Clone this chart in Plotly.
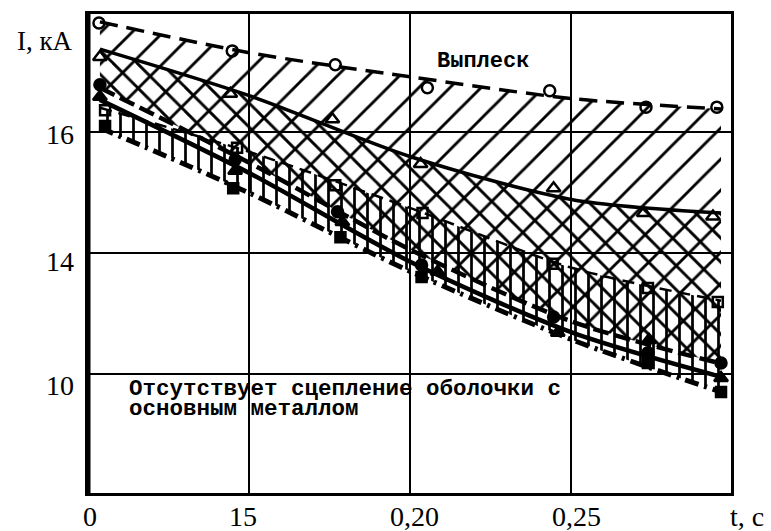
import plotly.graph_objects as go

# ---------------- data ----------------
# x tick positions / labels (as printed in the original figure)
x_tickvals = [0.10, 0.15, 0.20, 0.25]
x_ticktext = ["0", "15", "0,20", "0,25"]
y_tickvals = [16, 14, 12]
y_ticktext = ["16", "14", "10"]

# measured points (markers)
t_open_circle = [0.1034, 0.1448, 0.1768, 0.2054, 0.2434, 0.2733, 0.2953]
i_open_circle = [17.80, 17.34, 17.11, 16.73, 16.68, 16.41, 16.41]

t_open_tri = [0.1037, 0.1442, 0.1759, 0.2033, 0.2446, 0.2726, 0.2941]
i_open_tri = [17.24, 16.63, 16.21, 15.47, 15.07, 14.66, 14.60]

t_open_sq = [0.1053, 0.1463, 0.1768, 0.2039, 0.2443, 0.2739, 0.2956]
i_open_sq = [16.36, 15.74, 15.12, 14.66, 13.82, 13.42, 13.19]

t_fill_circle = [0.1037, 0.1457, 0.1775, 0.2036, 0.2446, 0.2739, 0.2966]
i_fill_circle = [16.78, 15.54, 14.68, 13.80, 12.94, 12.35, 12.18]

t_fill_tri = [0.1037, 0.1457, 0.1790, 0.2086, 0.2459, 0.2742, 0.2966]
i_fill_tri = [16.58, 15.36, 14.51, 13.69, 12.68, 12.56, 11.93]

t_fill_sq = [0.1053, 0.1451, 0.1784, 0.2036, 0.2739, 0.2966]
i_fill_sq = [16.10, 15.07, 14.26, 13.60, 12.18, 11.70]

# boundary curves
t_curve = [0.1037, 0.1501, 0.2002, 0.2505, 0.2966]
i_curve_splash = [17.82, 17.31, 16.91, 16.55, 16.38]     # dashed, open circles
i_curve_tri = [17.37, 16.60, 15.59, 14.88, 14.66]        # solid, open triangles
i_curve_sq = [16.40, 15.67, 14.74, 13.75, 13.21]         # dashed, open squares
i_curve_fcircle = [16.73, 15.49, 14.05, 12.86, 12.17]    # thick dashed
i_curve_ftri = [16.53, 15.32, 13.85, 12.68, 11.95]       # thick solid
i_curve_fsq = [16.07, 14.99, 13.69, 12.56, 11.70]        # thick dash-dot

label_splash = "Выплеск"
label_nobond = ["Отсутствует сцепление оболочки с", "основным металлом"]
y_title = "I, кА"
x_title = "t, c"

# ---------------- figure ----------------
fig = go.Figure()
BLACK = "black"
NOFILL = "rgba(0,0,0,0)"


def hatch(bottom, top, shape, size, solidity):
    fig.add_trace(go.Scatter(x=t_curve, y=bottom, mode="lines",
                             line=dict(width=0, shape="spline", smoothing=0.8),
                             showlegend=False, hoverinfo="skip"))
    fig.add_trace(go.Scatter(x=t_curve, y=top, mode="lines",
                             line=dict(width=0, shape="spline", smoothing=0.8),
                             fill="tonexty", fillcolor=NOFILL,
                             fillpattern=dict(shape=shape, size=size, solidity=solidity,
                                              fgcolor=BLACK, bgcolor=NOFILL,
                                              fillmode="replace"),
                             showlegend=False, hoverinfo="skip"))


hatch(i_curve_fcircle, i_curve_splash, "/", 22, 0.13)
hatch(i_curve_fcircle, i_curve_tri, "\\", 17, 0.17)
hatch(i_curve_fsq, i_curve_sq, "|", 13, 0.21)


def curve(y, width, dash):
    fig.add_trace(go.Scatter(x=t_curve, y=y, mode="lines",
                             line=dict(color=BLACK, width=width, dash=dash,
                                       shape="spline", smoothing=0.8),
                             showlegend=False, hoverinfo="skip"))


curve(i_curve_splash, 3.5, "18px,9px")
curve(i_curve_tri, 3.5, "solid")
curve(i_curve_sq, 2.5, "12px,7px")
curve(i_curve_fcircle, 4.5, "16px,6px")
curve(i_curve_ftri, 4.5, "solid")
curve(i_curve_fsq, 5, "14px,6px,3px,6px")


def pts(x, y, symbol, size):
    fig.add_trace(go.Scatter(x=x, y=y, mode="markers",
                             marker=dict(symbol=symbol, size=size, color=BLACK,
                                         line=dict(color=BLACK, width=2.5)),
                             showlegend=False, hoverinfo="skip"))


pts(t_open_circle, i_open_circle, "circle-open", 11)
pts(t_open_tri, i_open_tri, "triangle-up-open", 12)
pts(t_open_sq, i_open_sq, "square-open", 10)
pts(t_fill_circle, i_fill_circle, "circle", 11)
pts(t_fill_tri, i_fill_tri, "triangle-up", 12)
pts(t_fill_sq, i_fill_sq, "square", 10)

SERIF = "Liberation Serif"
MONO = "Liberation Mono"

ann = []
x_shifts = [2, -6, 5, 6]
for v, s, dx in zip(x_tickvals, x_ticktext, x_shifts):
    ann.append(dict(x=v, y=0, xref="x", yref="paper", text=s, showarrow=False,
                    xanchor="center", yanchor="top", yshift=-6, xshift=dx,
                    font=dict(family=SERIF, size=28, color=BLACK)))
ann.append(dict(x=1.0, y=0, xref="paper", yref="paper", text=x_title, showarrow=False,
                xanchor="center", yanchor="top", yshift=-6, xshift=16,
                font=dict(family=SERIF, size=28, color=BLACK)))
y_shifts = [-3, -9, -12]
for v, s, dy in zip(y_tickvals, y_ticktext, y_shifts):
    ann.append(dict(x=0, y=v, xref="paper", yref="y", text=s, showarrow=False,
                    xanchor="right", yanchor="middle", xshift=-12, yshift=dy,
                    font=dict(family=SERIF, size=28, color=BLACK)))
ann.append(dict(x=0, y=1, xref="paper", yref="paper", text=y_title, showarrow=False,
                xanchor="right", yanchor="middle", xshift=-13, yshift=-27,
                font=dict(family=SERIF, size=27, color=BLACK)))
ann.append(dict(x=0.2079, y=17.157, xref="x", yref="y", text=label_splash, showarrow=False,
                xanchor="left", yanchor="middle",
                font=dict(family=MONO, size=22, color=BLACK, weight="bold")))
# two tightly spaced lines: small base size sets the line pitch, spans set glyph size
nobond_text = "<br>".join('<span style="font-size:22.5px">%s</span>' % s for s in label_nobond)
ann.append(dict(x=0.1121, y=11.58, xref="x", yref="y", text=nobond_text, showarrow=False,
                xanchor="left", yanchor="middle", align="left",
                font=dict(family=MONO, size=15, color=BLACK, weight="bold")))

fig.update_layout(
    width=771, height=531,
    margin=dict(l=88, r=40, t=14, b=38),
    paper_bgcolor="white", plot_bgcolor="white",
    showlegend=False,
    annotations=ann,
    shapes=[dict(type="line", xref="paper", yref="paper", x0=0, x1=0, y0=0, y1=1,
                 line=dict(color=BLACK, width=5))],
)
fig.update_xaxes(range=[0.10, 0.2997], tickvals=x_tickvals, showticklabels=False,
                 showgrid=True, gridcolor=BLACK, gridwidth=2, zeroline=False,
                 showline=True, linecolor=BLACK, linewidth=3, mirror=True, ticks="")
fig.update_yaxes(range=[10.03, 17.95], tickvals=y_tickvals, showticklabels=False,
                 showgrid=True, gridcolor=BLACK, gridwidth=2, zeroline=False,
                 showline=True, linecolor=BLACK, linewidth=3, mirror=True, ticks="")

fig.write_html("out.html")
